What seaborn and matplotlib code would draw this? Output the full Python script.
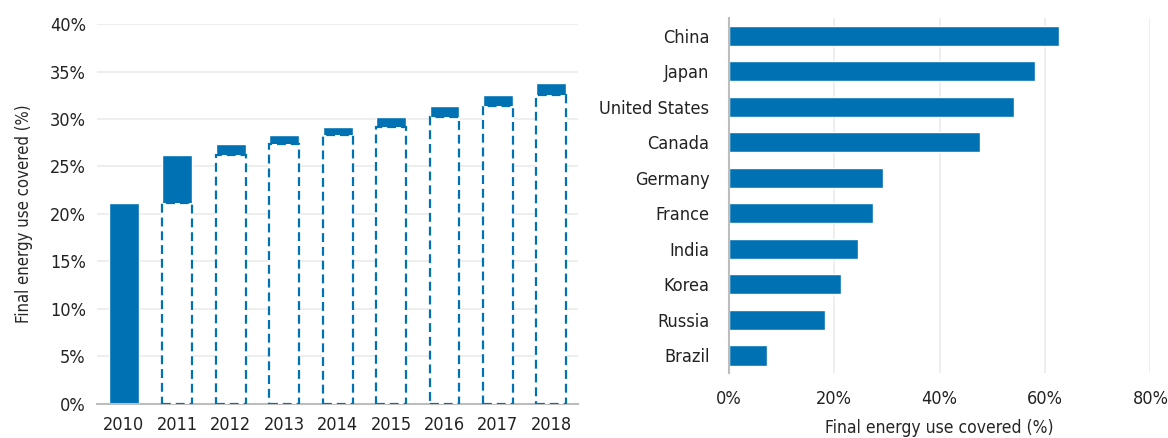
import numpy as np
import pandas as pd
import matplotlib
matplotlib.use("Agg")
import matplotlib.pyplot as plt
from matplotlib.ticker import PercentFormatter
import seaborn as sns

# left panel: coverage over time (waterfall style)
years = ["2010", "2011", "2012", "2013", "2014", "2015", "2016", "2017", "2018"]
coverage = [21.2, 26.2, 27.4, 28.35, 29.2, 30.2, 31.4, 32.5, 33.8]

# right panel: coverage by country
countries = ["China", "Japan", "United States", "Canada", "Germany",
             "France", "India", "Korea", "Russia", "Brazil"]
country_cov = [62.7, 58.1, 54.1, 47.6, 29.2, 27.4, 24.6, 21.2, 18.2, 7.2]

BLUE = "#0072b4"
GRID = "#ebebeb"
AXIS = "#bdbdbd"

sns.set_style("white")
plt.rcParams["font.family"] = ["DejaVu Sans"]
plt.rcParams["font.stretch"] = "condensed"
plt.rcParams["text.color"] = "#222222"
plt.rcParams["xtick.color"] = "#222222"
plt.rcParams["ytick.color"] = "#222222"

fig = plt.figure(figsize=(11.68, 4.38), dpi=100)
ax1 = fig.add_axes([0.083, 0.078, 0.412, 0.867])
ax2 = fig.add_axes([0.624, 0.148, 0.361, 0.811])

# --- left: totals as solid bars, previous level as white dashed boxes on top
tot = pd.DataFrame({"year": years, "value": coverage})
prev = pd.DataFrame({"year": years[1:], "value": coverage[:-1]})

sns.barplot(data=tot, x="year", y="value", order=years, color=BLUE,
            width=0.56, saturation=1, ax=ax1, zorder=2)
sns.barplot(data=prev, x="year", y="value", order=years, color="white",
            width=0.56, saturation=1, edgecolor=BLUE, linewidth=1.6,
            linestyle=(0, (4, 2.2)), ax=ax1, zorder=3)

ax1.set_ylim(0, 40)
ax1.set_xlim(-0.5, len(years) - 0.5)
ax1.yaxis.set_major_formatter(PercentFormatter(decimals=0))
ax1.set_yticks(np.arange(0, 41, 5))
ax1.grid(axis="y", color=GRID, linewidth=1.2, zorder=0)
ax1.set_axisbelow(True)
sns.despine(ax=ax1, left=True)
ax1.spines["bottom"].set_color(AXIS)
ax1.spines["bottom"].set_linewidth(1.5)
ax1.set_xlabel("")
ax1.set_ylabel("Final energy use covered (%)", fontsize=12, labelpad=12)
ax1.tick_params(axis="both", length=0, labelsize=13)
ax1.tick_params(axis="x", pad=9)
ax1.tick_params(axis="y", pad=8)

# --- right: horizontal bars by country
cdf = pd.DataFrame({"country": countries, "value": country_cov})
sns.barplot(data=cdf, y="country", x="value", order=countries, color=BLUE,
            width=0.57, saturation=1, orient="h", ax=ax2, zorder=2)
ax2.set_xlim(0, 80)
ax2.set_xticks(np.arange(0, 81, 20))
ax2.xaxis.set_major_formatter(PercentFormatter(decimals=0))
ax2.grid(axis="x", color=GRID, linewidth=1.2, zorder=0)
ax2.set_axisbelow(True)
sns.despine(ax=ax2, bottom=True)
ax2.spines["left"].set_color(AXIS)
ax2.spines["left"].set_linewidth(1.5)
ax2.set_ylabel("")
ax2.set_xlabel("Final energy use covered (%)", fontsize=12.5, labelpad=8)
ax2.tick_params(axis="both", length=0, labelsize=13)
ax2.tick_params(axis="x", pad=12)
ax2.tick_params(axis="y", pad=14)

fig.savefig("out.png", dpi=100)
